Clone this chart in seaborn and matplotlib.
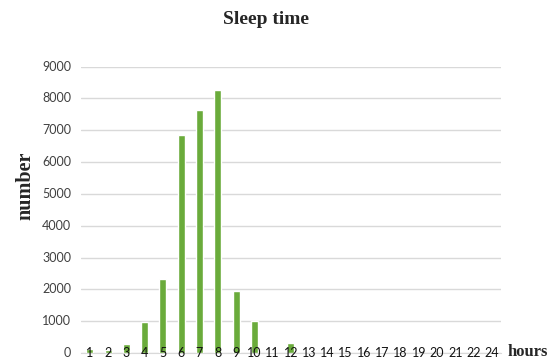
import matplotlib
matplotlib.use("Agg")
import matplotlib.pyplot as plt
import seaborn as sns
import pandas as pd

# Hours of sleep and how many people reported each
hours = ["1", "2", "3", "4", "5", "6", "7", "8", "9", "10", "11", "12",
         "13", "14", "15", "16", "17", "18", "19", "20", "21", "22", "24"]
counts = [110, 100, 290, 960, 2310, 6850, 7640, 8270, 1945, 995, 25, 300,
          8, 8, 6, 8, 18, 18, 6, 6, 18, 12, 18]
y_ticks = [0, 1000, 2000, 3000, 4000, 5000, 6000, 7000, 8000, 9000]

df = pd.DataFrame({"hours": hours, "number": counts})

sns.set_style("white")
plt.rcParams["font.family"] = ["Lato", "DejaVu Sans"]

W, H = 551, 364
fig = plt.figure(figsize=(W / 100, H / 100), dpi=100)
ax = fig.add_axes([80.7 / W, (H - 352.9) / H, (501 - 80.7) / W, (352.9 - 66.7) / H])

sns.barplot(data=df, x="hours", y="number", color="#6aab3b", width=0.38,
            saturation=1, ax=ax, zorder=3)

ax.set_ylim(0, 9000)
ax.set_xlim(-0.5, len(hours) - 0.5)
ax.set_yticks(y_ticks)
ax.set_yticklabels([str(v) for v in y_ticks], fontsize=9, color="#404040")
ax.yaxis.grid(True, color="#d9d9d9", linewidth=1.0, zorder=0)
ax.set_axisbelow(True)
ax.tick_params(axis="y", length=0, pad=7)
for lbl in ax.get_yticklabels():
    lbl.set_verticalalignment("center")

# category labels sit on the baseline, drawn over the bars
ax.set_xticks(range(len(hours)))
ax.set_xticklabels([])
ax.tick_params(axis="x", length=0)
for i, h in enumerate(hours):
    ax.text(i, 0, h, ha="center", va="center", fontsize=9, color="#111111",
            zorder=6, clip_on=False)

for s in ["top", "right", "left"]:
    ax.spines[s].set_visible(False)
ax.spines["bottom"].set_color("#d9d9d9")
ax.spines["bottom"].set_zorder(1)

ax.set_xlabel("")
ax.set_ylabel("")

serif = ["Liberation Serif", "DejaVu Serif"]
fig.text(266 / W, 1 - 20 / H, "Sleep time", ha="center", va="center",
         fontsize=14, fontweight="bold", family=serif)
fig.text(25 / W, 1 - 186 / H, "number", ha="center", va="center",
         rotation=90, fontsize=14.5, fontweight="bold", family=serif)
fig.text(528 / W, 1 - 352 / H, "hours", ha="center", va="center",
         fontsize=12, fontweight="bold", family=serif)

fig.savefig("out.png", dpi=100, facecolor="white")
